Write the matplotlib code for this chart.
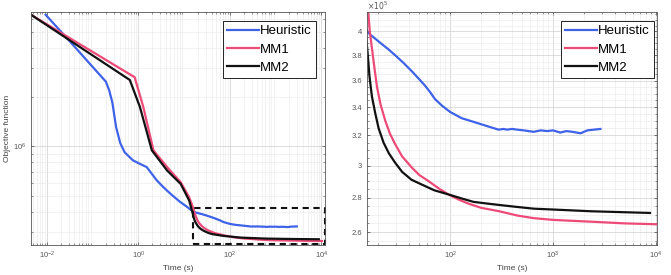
import matplotlib
matplotlib.use("Agg")
import matplotlib.pyplot as plt
import numpy as np
from matplotlib.ticker import FixedLocator, NullFormatter, LogLocator

plt.rcParams['font.family'] = ['Liberation Sans', 'DejaVu Sans']

# Heuristic
heur_t = [9.4e-3, 0.0295, 0.195, 0.23, 0.27, 0.326, 0.40, 0.50, 0.766, 1.1, 1.52, 2.55, 3.6,
          5.05, 8.0, 11.9,
          15.8, 18.5, 21.8, 25, 29.2, 35, 42.6, 50, 57, 64, 71, 83.6, 100, 130, 160, 196,
          240, 296, 330, 357, 400, 450, 520, 650, 760, 880, 1000, 1180, 1350, 1550, 1860,
          2000, 2160, 2500, 2900]
heur_f = [6.35e6, 4.47e6, 2.48e6, 2.2e6, 1.85e6, 1.31e6, 1.05e6, 9.2e5, 8.2e5, 7.8e5, 7.47e5,
          6.18e5, 5.6e5, 5.13e5, 4.6e5, 4.25e5,
          3.99e5, 3.94e5, 3.89e5, 3.85e5, 3.80e5, 3.74e5, 3.67e5, 3.61e5, 3.56e5, 3.51e5,
          3.46e5, 3.41e5, 3.365e5, 3.32e5, 3.30e5, 3.28e5, 3.26e5, 3.24e5, 3.245e5, 3.24e5,
          3.245e5, 3.24e5, 3.235e5, 3.225e5, 3.235e5, 3.23e5, 3.235e5, 3.22e5, 3.23e5, 3.225e5,
          3.215e5, 3.225e5, 3.235e5, 3.24e5, 3.245e5]

# MM1
mm1_t = [4.5e-3, 0.83, 1.28, 2.14, 4.25, 8.4, 12.9,
         15.9, 16.5, 17.3, 18.3, 19.4, 21, 23.4, 26, 29.2, 34, 42.6, 50, 62, 78, 96, 120,
         150, 200, 300, 450, 650, 1000, 1500, 2300, 5000, 1.03e4]
mm1_f = [6.35e6, 2.64e6, 1.74e6, 9.45e5, 7.47e5, 6.04e5, 4.89e5,
         4.18e5, 4.0e5, 3.86e5, 3.70e5, 3.55e5, 3.42e5, 3.30e5, 3.21e5, 3.14e5, 3.06e5,
         2.985e5, 2.94e5, 2.90e5, 2.855e5, 2.82e5, 2.79e5, 2.765e5, 2.74e5, 2.72e5, 2.695e5,
         2.68e5, 2.67e5, 2.665e5, 2.66e5, 2.65e5, 2.645e5]

# MM2
mm2_t = [4.5e-3, 0.65, 1.08, 1.97, 4.25, 8.4, 12.9,
         15.6, 16.4, 17.3, 18.6, 20.1, 22.5, 25.3, 29, 34, 42, 53, 70, 96, 130, 169, 230,
         319, 450, 650, 1000, 2300, 8800]
mm2_f = [6.35e6, 2.54e6, 1.74e6, 9.45e5, 7.12e5, 5.9e5, 4.67e5,
         3.85e5, 3.63e5, 3.48e5, 3.36e5, 3.25e5, 3.15e5, 3.08e5, 3.02e5, 2.96e5, 2.91e5,
         2.88e5, 2.845e5, 2.82e5, 2.795e5, 2.775e5, 2.765e5, 2.755e5, 2.745e5, 2.735e5,
         2.73e5, 2.72e5, 2.71e5]

labels = ['Heuristic', 'MM1', 'MM2']
colors = ['#3f63e8', '#ee4a78', '#111111']

left_xlim = (4.5e-3, 1.2e4)
left_ylim = (2.5e5, 6.6e6)
zoom_xlim = (15.5, 1.03e4)
zoom_ylim = (2.53e5, 4.17e5)
zoom_yticks = [2.6e5, 2.8e5, 3.0e5, 3.2e5, 3.4e5, 3.6e5, 3.8e5, 4.0e5]

fig = plt.figure(figsize=(6.71, 2.75), dpi=100)
ax1 = fig.add_axes([31 / 671, 30 / 275, 294 / 671, 233 / 275])
ax2 = fig.add_axes([367 / 671, 30 / 275, 290 / 671, 233 / 275])

series = [(heur_t, heur_f), (mm1_t, mm1_f), (mm2_t, mm2_f)]
leg_anchor = [(1.0, 1.0), (1.0 + 6 / 290, 1.0)]

for ax, anchor in zip((ax1, ax2), leg_anchor):
    for (t, f), lab, c in zip(series, labels, colors):
        ax.plot(t, f, color=c, lw=1.6, label=lab)
    ax.set_xscale('log')
    ax.set_yscale('log')
    ax.grid(True, which='major', color='#cfcfcf', lw=0.5)
    ax.grid(True, which='minor', color='#e8e8e8', lw=0.4)
    ax.tick_params(which='both', direction='in', labelsize=5.5, labelcolor='#555555',
                   color='#444444', top=True, right=True)
    ax.tick_params(which='major', length=2.5, width=0.5)
    ax.tick_params(which='minor', length=1.3, width=0.4)
    for s in ax.spines.values():
        s.set_color('#555555')
        s.set_linewidth(0.6)
    ax.set_xlabel('Time (s)', fontsize=6, color='#444444', labelpad=3)
    leg = ax.legend(loc='upper right', bbox_to_anchor=anchor, fontsize=9.5, fancybox=False,
                    framealpha=1, edgecolor='#222222', handlelength=2.4, handletextpad=0.1,
                    labelspacing=0.45, borderpad=0.3, borderaxespad=0.7)
    leg.get_frame().set_linewidth(0.7)

ax1.set_xlim(*left_xlim)
ax1.set_ylim(*left_ylim)
ax1.xaxis.set_major_locator(FixedLocator([1e-2, 1e0, 1e2, 1e4]))
ax1.xaxis.set_minor_locator(LogLocator(base=10, subs=np.arange(2, 10), numticks=20))
ax1.xaxis.set_minor_formatter(NullFormatter())
ax1.yaxis.set_minor_formatter(NullFormatter())
ax1.set_ylabel('Objective function', fontsize=6, color='#444444', labelpad=1)

# zoom region marker
bx = [zoom_xlim[0], left_xlim[1], left_xlim[1], zoom_xlim[0], zoom_xlim[0]]
by = [zoom_ylim[0], zoom_ylim[0], 4.2e5, 4.2e5, zoom_ylim[0]]
ax1.plot(bx, by, color='#111111', lw=1.5, ls=(0, (3, 2.2)), clip_on=False)

ax2.set_xlim(*zoom_xlim)
ax2.set_ylim(*zoom_ylim)
ax2.xaxis.set_major_locator(FixedLocator([1e2, 1e3, 1e4]))
ax2.xaxis.set_minor_formatter(NullFormatter())
ax2.yaxis.set_major_locator(FixedLocator(zoom_yticks))
ax2.yaxis.set_minor_locator(FixedLocator(np.arange(2.55e5, 4.17e5, 0.05e5)))
ax2.yaxis.set_minor_formatter(NullFormatter())
ax2.set_yticklabels(['%g' % (v / 1e5) for v in zoom_yticks])
ax2.text(0.0, 1.0, r'$\times10^5$', transform=ax2.transAxes, fontsize=5.5,
         color='#555555', ha='left', va='bottom')

fig.savefig('out.png', dpi=100)
